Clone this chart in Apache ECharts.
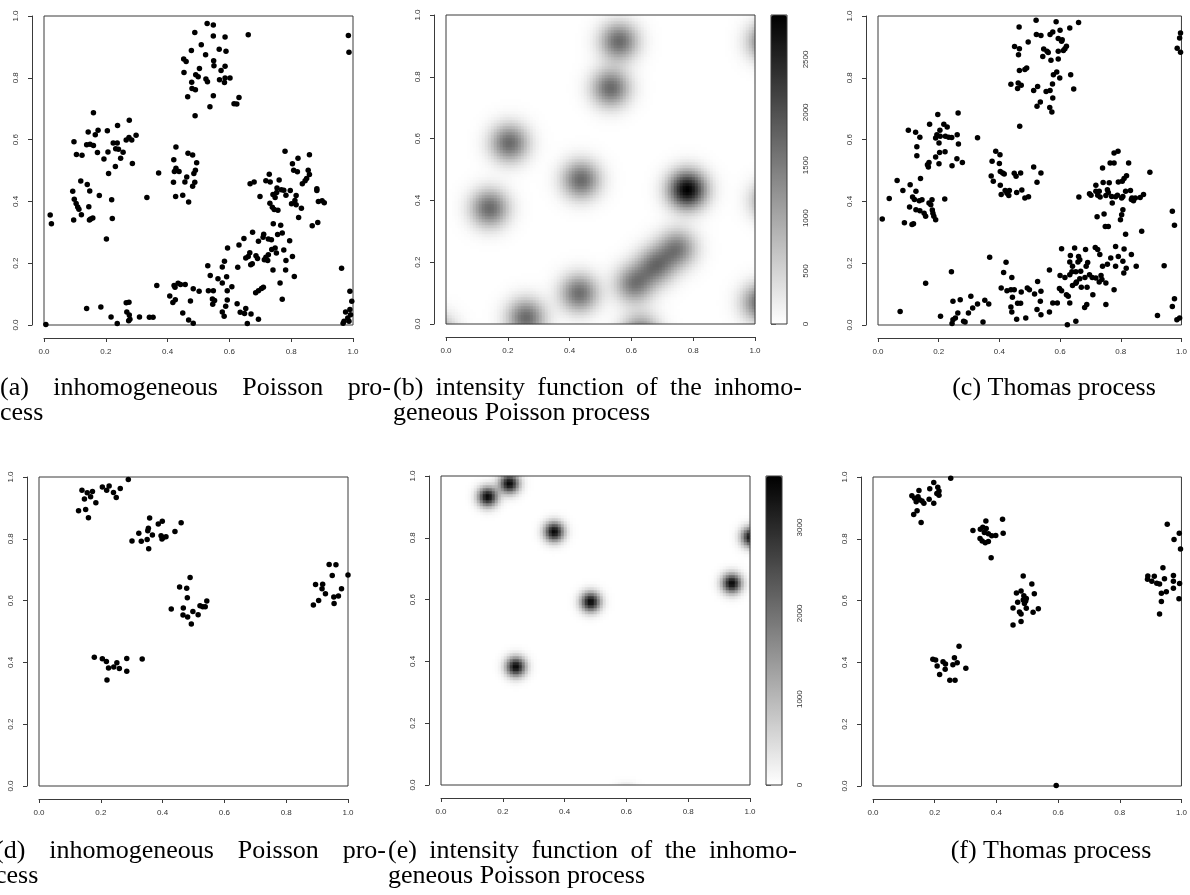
<!DOCTYPE html>
<html lang="en">
<head>
<meta charset="UTF-8" />
<title>Poisson and Thomas processes</title>
<script src="https://cdn.jsdelivr.net/npm/echarts@6/dist/echarts.min.js"></script>
<style>
    * { margin: 0; padding: 0; }
    #main { width: 1190px; height: 895px; background: #fff; }
</style>
</head>
<body>
<div id="main"></div>
<script>
    // ---- data ----
    const axisTicks = [0, 0.2, 0.4, 0.6, 0.8, 1];

    // (a) inhomogeneous Poisson process, 1st row
    const pointsA = [
        [0.488,0.947],[0.477,0.888],[0.452,0.861],[0.460,0.853],[0.453,0.817],[0.491,0.810],[0.499,0.803],[0.478,0.786],[0.503,0.830],[0.479,0.765],[0.490,0.761],[0.465,0.739],[0.489,0.677],
        [0.528,0.976],[0.548,0.971],[0.548,0.935],[0.586,0.932],[0.661,0.939],[0.509,0.907],[0.523,0.875],[0.567,0.892],[0.589,0.886],[0.549,0.855],[0.550,0.839],[0.573,0.824],[0.586,0.837],[0.524,0.796],[0.529,0.787],[0.568,0.794],[0.586,0.799],[0.602,0.799],[0.584,0.785],[0.548,0.742],[0.537,0.706],[0.631,0.736],[0.615,0.716],[0.624,0.715],
        [0.985,0.937],[0.987,0.883],
        [0.160,0.687],[0.276,0.663],[0.143,0.625],[0.175,0.630],[0.166,0.616],[0.205,0.629],[0.238,0.646],[0.097,0.593],[0.138,0.583],[0.149,0.585],[0.160,0.581],[0.105,0.552],[0.123,0.549],[0.173,0.558],[0.224,0.589],[0.237,0.589],[0.207,0.560],[0.232,0.570],[0.241,0.569],[0.256,0.559],[0.194,0.537],[0.248,0.540],[0.266,0.599],[0.275,0.607],[0.284,0.599],[0.298,0.614],[0.286,0.523],[0.231,0.513],[0.209,0.490],
        [0.427,0.576],[0.420,0.535],[0.466,0.556],[0.481,0.550],[0.494,0.525],[0.427,0.507],[0.437,0.497],[0.422,0.497],[0.371,0.492],[0.490,0.501],[0.485,0.490],[0.462,0.479],[0.456,0.463],[0.488,0.462],[0.481,0.449],[0.419,0.462],[0.426,0.416],[0.449,0.420],[0.468,0.398],[0.333,0.413],
        [0.119,0.466],[0.140,0.455],[0.093,0.433],[0.148,0.434],[0.179,0.419],[0.098,0.407],[0.104,0.393],[0.109,0.382],[0.113,0.375],[0.145,0.383],[0.219,0.405],[0.121,0.357],[0.096,0.340],[0.151,0.343],[0.158,0.346],[0.147,0.340],[0.221,0.345],[0.020,0.356],[0.024,0.328],[0.202,0.278],
        [0.780,0.562],[0.859,0.551],[0.822,0.540],[0.804,0.522],[0.808,0.501],[0.820,0.496],[0.855,0.501],[0.859,0.487],[0.729,0.488],[0.718,0.467],[0.732,0.463],[0.761,0.469],[0.667,0.457],[0.680,0.463],[0.754,0.443],[0.768,0.438],[0.776,0.436],[0.753,0.429],[0.748,0.413],[0.741,0.422],[0.699,0.416],[0.783,0.420],[0.797,0.435],[0.816,0.419],[0.812,0.403],[0.801,0.392],[0.816,0.389],[0.731,0.394],[0.739,0.381],[0.745,0.374],[0.757,0.371],[0.833,0.378],[0.824,0.348],[0.845,0.467],[0.850,0.474],[0.836,0.457],[0.883,0.441],[0.883,0.435],[0.888,0.400],[0.900,0.402],[0.907,0.396],[0.886,0.332],[0.868,0.321],
        [0.742,0.328],[0.766,0.323],[0.675,0.300],[0.711,0.294],[0.694,0.271],[0.647,0.280],[0.631,0.259],[0.594,0.249],[0.709,0.284],[0.726,0.278],[0.736,0.276],[0.756,0.293],[0.771,0.298],[0.795,0.273],[0.748,0.249],[0.737,0.244],[0.752,0.233],[0.776,0.243],[0.666,0.234],[0.661,0.222],[0.686,0.224],[0.691,0.215],[0.653,0.217],[0.674,0.198],[0.669,0.195],[0.718,0.219],[0.726,0.227],[0.713,0.211],[0.724,0.209],[0.741,0.178],[0.783,0.209],[0.782,0.178],[0.804,0.222],[0.584,0.206],[0.577,0.188],[0.627,0.187],[0.530,0.192],[0.538,0.160],[0.563,0.150],[0.577,0.136],[0.591,0.156],[0.608,0.124],[0.593,0.111],[0.810,0.157],[0.764,0.136],[0.685,0.104],[0.694,0.111],[0.704,0.118],[0.710,0.122],[0.771,0.083],
        [0.365,0.128],[0.421,0.128],[0.434,0.135],[0.442,0.131],[0.457,0.131],[0.424,0.122],[0.483,0.117],[0.502,0.109],[0.407,0.094],[0.425,0.082],[0.417,0.073],[0.474,0.078],[0.138,0.053],[0.184,0.058],[0.266,0.072],[0.275,0.074],[0.268,0.042],[0.217,0.026],[0.237,0.005],[0.276,0.032],[0.278,0.019],[0.274,0.014],[0.309,0.026],[0.341,0.025],[0.353,0.025],[0.449,0.039],[0.468,0.016],[0.483,0.006],[0.006,0.002],
        [0.532,0.111],[0.548,0.111],[0.545,0.084],[0.552,0.079],[0.546,0.067],[0.593,0.081],[0.588,0.061],[0.625,0.069],[0.653,0.053],[0.577,0.042],[0.583,0.028],[0.635,0.041],[0.649,0.037],[0.670,0.036],[0.694,0.019],[0.658,0.005],
        [0.963,0.184],[0.990,0.109],[0.996,0.077],[0.976,0.042],[0.990,0.050],[0.992,0.033],[0.983,0.023],[0.971,0.012],[0.987,0.012],[0.968,0.006]
    ];

    // (b) intensity bumps: [x, y, height]
    const bumpsB = [
        [0.561,0.915,1700],[0.534,0.764,1700],[0.206,0.586,1700],[0.438,0.467,1700],[0.142,0.375,1700],
        [0.782,0.435,2920],[0.610,0.130,1500],[0.680,0.190,1500],[0.750,0.245,1450],[0.432,0.100,1650],
        [0.260,0.020,1700],[1.040,0.915,1700],[1.050,0.400,1400],[1.020,0.070,1700],[0.630,-0.030,1500],
        [-0.030,-0.030,1300]
    ];
    const sigmaB = 0.042;
    const maxB = 2920;
    const barTicksB = [0, 500, 1000, 1500, 2000, 2500];

    // (c) Thomas process, 1st row
    const pointsC = [
        [0.465,0.964],[0.495,0.916],[0.450,0.901],[0.466,0.894],[0.463,0.875],[0.490,0.832],[0.484,0.827],[0.466,0.824],[0.438,0.779],[0.462,0.783],[0.472,0.776],[0.460,0.765],[0.467,0.643],
        [0.521,0.986],[0.587,0.981],[0.661,0.979],[0.632,0.961],[0.600,0.954],[0.576,0.948],[0.567,0.940],[0.522,0.940],[0.537,0.937],[0.594,0.927],[0.607,0.923],[0.605,0.918],[0.621,0.902],[0.616,0.894],[0.611,0.888],[0.546,0.893],[0.557,0.886],[0.561,0.882],[0.543,0.869],[0.570,0.857],[0.594,0.861],[0.594,0.886],[0.589,0.819],[0.578,0.810],[0.599,0.799],[0.635,0.810],[0.575,0.780],[0.567,0.759],[0.645,0.764],[0.513,0.759],[0.526,0.772],[0.554,0.756],[0.535,0.722],[0.524,0.708],[0.566,0.704],[0.573,0.689],[0.576,0.735],
        [0.997,0.945],[0.994,0.929],[0.986,0.896],[0.997,0.883],
        [0.197,0.681],[0.264,0.686],[0.170,0.650],[0.217,0.650],[0.228,0.641],[0.204,0.630],[0.100,0.630],[0.124,0.624],[0.138,0.608],[0.194,0.616],[0.205,0.611],[0.222,0.611],[0.233,0.608],[0.243,0.607],[0.261,0.616],[0.190,0.605],[0.201,0.589],[0.265,0.586],[0.328,0.606],[0.128,0.577],[0.128,0.548],[0.203,0.558],[0.221,0.561],[0.190,0.544],[0.168,0.526],[0.163,0.519],[0.166,0.511],[0.201,0.522],[0.244,0.515],[0.260,0.538],[0.278,0.526],
        [0.388,0.562],[0.402,0.551],[0.376,0.530],[0.400,0.523],[0.403,0.497],[0.411,0.492],[0.416,0.489],[0.449,0.491],[0.455,0.481],[0.470,0.492],[0.373,0.482],[0.380,0.465],[0.403,0.452],[0.419,0.435],[0.433,0.435],[0.425,0.426],[0.406,0.422],[0.431,0.419],[0.457,0.429],[0.474,0.437],[0.484,0.411],[0.496,0.415],
        [0.513,0.511],[0.537,0.492],[0.524,0.462],
        [0.140,0.474],[0.063,0.468],[0.106,0.454],[0.082,0.435],[0.125,0.433],[0.114,0.414],[0.120,0.406],[0.136,0.402],[0.145,0.405],[0.168,0.395],[0.178,0.405],[0.174,0.389],[0.037,0.409],[0.220,0.408],[0.104,0.382],[0.125,0.373],[0.138,0.370],[0.152,0.362],[0.157,0.352],[0.179,0.372],[0.181,0.362],[0.184,0.352],[0.190,0.341],[0.014,0.343],[0.087,0.331],[0.112,0.325],[0.117,0.328],
        [0.778,0.557],[0.791,0.562],[0.765,0.524],[0.778,0.524],[0.740,0.508],[0.826,0.524],[0.896,0.494],[0.819,0.483],[0.811,0.474],[0.805,0.465],[0.718,0.452],[0.742,0.461],[0.762,0.460],[0.792,0.463],[0.697,0.425],[0.702,0.420],[0.724,0.420],[0.732,0.414],[0.718,0.433],[0.729,0.433],[0.756,0.438],[0.759,0.429],[0.751,0.419],[0.770,0.416],[0.783,0.415],[0.789,0.420],[0.803,0.411],[0.807,0.416],[0.816,0.433],[0.832,0.435],[0.837,0.411],[0.842,0.402],[0.848,0.411],[0.835,0.406],[0.864,0.413],[0.875,0.422],[0.662,0.414],[0.772,0.395],[0.745,0.359],[0.807,0.373],[0.803,0.357],[0.799,0.341],[0.722,0.350],[0.749,0.319],[0.759,0.319],[0.816,0.294],[0.869,0.303],[0.970,0.368],[0.977,0.323],
        [0.605,0.247],[0.648,0.249],[0.684,0.244],[0.716,0.251],[0.724,0.244],[0.731,0.228],[0.783,0.254],[0.811,0.246],[0.835,0.228],[0.792,0.222],[0.767,0.217],[0.807,0.206],[0.818,0.184],[0.810,0.168],[0.783,0.190],[0.756,0.197],[0.740,0.190],[0.634,0.225],[0.661,0.222],[0.665,0.211],[0.659,0.204],[0.691,0.202],[0.632,0.204],[0.641,0.190],[0.639,0.172],[0.652,0.172],[0.668,0.174],[0.686,0.190],[0.697,0.163],[0.706,0.154],[0.718,0.152],[0.735,0.160],[0.738,0.147],[0.729,0.139],[0.632,0.163],[0.682,0.154],[0.665,0.150],[0.652,0.135],[0.670,0.122],[0.654,0.139],[0.641,0.128],[0.616,0.154],[0.600,0.160],[0.565,0.178],[0.598,0.118],[0.605,0.111],[0.621,0.098],[0.627,0.093],[0.689,0.122],[0.708,0.098],[0.751,0.136],[0.778,0.114],[0.851,0.190],[0.943,0.192],
        [0.537,0.109],[0.526,0.141],[0.516,0.100],[0.535,0.077],[0.524,0.050],[0.537,0.033],[0.565,0.042],[0.576,0.071],[0.591,0.071],[0.632,0.071],[0.688,0.066],[0.681,0.057],[0.751,0.066],[0.624,0.001],[0.652,0.012],[0.921,0.031],[0.970,0.060],[0.977,0.085],[0.985,0.017],[0.994,0.023],
        [0.368,0.219],[0.422,0.203],[0.414,0.170],[0.441,0.154],[0.242,0.172],[0.157,0.135],[0.406,0.120],[0.425,0.111],[0.438,0.114],[0.449,0.114],[0.472,0.107],[0.492,0.120],[0.499,0.114],[0.443,0.090],[0.460,0.070],[0.470,0.070],[0.438,0.058],[0.441,0.042],[0.306,0.093],[0.352,0.080],[0.365,0.068],[0.328,0.068],[0.312,0.055],[0.298,0.039],[0.247,0.077],[0.271,0.082],[0.263,0.039],[0.247,0.017],[0.255,0.023],[0.282,0.012],[0.287,0.010],[0.244,0.005],[0.206,0.028],[0.073,0.044],[0.346,0.010],[0.457,0.019],[0.487,0.023]
    ];

    // (d) inhomogeneous Poisson process, 2nd row
    const pointsD = [
        [0.289,0.992],[0.205,0.968],[0.227,0.971],[0.219,0.957],[0.241,0.950],[0.263,0.963],[0.250,0.934],[0.139,0.957],[0.156,0.949],[0.173,0.953],[0.167,0.936],[0.147,0.929],[0.184,0.917],[0.128,0.891],[0.151,0.895],[0.160,0.868],
        [0.358,0.867],[0.386,0.848],[0.399,0.857],[0.460,0.852],[0.323,0.818],[0.352,0.826],[0.354,0.834],[0.367,0.812],[0.395,0.810],[0.411,0.807],[0.440,0.824],[0.398,0.799],[0.301,0.793],[0.331,0.792],[0.350,0.798],[0.355,0.768],[0.402,0.804],
        [0.939,0.717],[0.961,0.716],[1.000,0.683],[0.949,0.681],[0.895,0.652],[0.918,0.653],[0.916,0.638],[0.979,0.638],[0.927,0.622],[0.954,0.612],[0.969,0.615],[0.905,0.600],[0.888,0.586],[0.955,0.591],
        [0.489,0.675],[0.455,0.644],[0.478,0.640],[0.480,0.609],[0.543,0.599],[0.521,0.583],[0.530,0.580],[0.538,0.580],[0.428,0.573],[0.467,0.576],[0.498,0.565],[0.515,0.554],[0.466,0.553],[0.481,0.547],[0.493,0.524],
        [0.179,0.417],[0.205,0.412],[0.218,0.403],[0.252,0.399],[0.284,0.413],[0.334,0.411],[0.225,0.382],[0.242,0.385],[0.260,0.380],[0.284,0.371],[0.220,0.343]
    ];

    // (e) intensity bumps: [x, y, height]
    const bumpsE = [
        [0.152,0.933,3500],[0.222,0.976,3500],[0.367,0.820,3500],[0.485,0.593,3500],
        [0.942,0.653,3500],[1.005,0.803,3500],[0.243,0.383,3500],[0.600,-0.045,3000]
    ];
    const sigmaE = 0.022;
    const maxE = 3600;
    const barTicksE = [0, 1000, 2000, 3000];

    // (f) Thomas process, 2nd row
    const pointsF = [
        [0.252,0.996],
        [0.197,0.982],[0.184,0.962],[0.210,0.967],[0.214,0.955],[0.207,0.947],[0.214,0.941],[0.149,0.956],[0.126,0.939],[0.135,0.931],[0.146,0.936],[0.151,0.926],[0.140,0.920],[0.159,0.922],[0.165,0.915],[0.182,0.928],[0.197,0.915],[0.143,0.891],[0.132,0.879],[0.156,0.853],
        [0.366,0.858],[0.420,0.863],[0.324,0.827],[0.348,0.831],[0.356,0.837],[0.367,0.833],[0.361,0.820],[0.374,0.816],[0.385,0.810],[0.398,0.811],[0.422,0.818],[0.347,0.801],[0.354,0.793],[0.364,0.787],[0.374,0.791],[0.383,0.739],
        [0.954,0.847],[0.993,0.818],[0.976,0.798],[0.997,0.767],[0.940,0.706],[0.891,0.680],[0.912,0.679],[0.974,0.681],[0.890,0.669],[0.904,0.663],[0.920,0.656],[0.929,0.654],[0.945,0.671],[0.974,0.663],[0.994,0.655],[0.974,0.640],[0.951,0.629],[0.935,0.624],[0.992,0.606],[0.935,0.597],[0.929,0.557],
        [0.487,0.680],[0.515,0.654],[0.480,0.631],[0.465,0.625],[0.523,0.622],[0.489,0.616],[0.497,0.607],[0.487,0.602],[0.495,0.599],[0.469,0.595],[0.491,0.591],[0.497,0.575],[0.454,0.576],[0.536,0.574],[0.475,0.563],[0.480,0.557],[0.519,0.562],[0.480,0.532],[0.454,0.521],
        [0.279,0.452],[0.194,0.410],[0.203,0.408],[0.227,0.402],[0.235,0.395],[0.264,0.415],[0.273,0.399],[0.208,0.388],[0.234,0.378],[0.259,0.392],[0.301,0.381],[0.216,0.361],[0.249,0.342],[0.266,0.342],
        [0.594,0.002]
    ];

    // ---- layout ----
    const SIZE = 309;
    const boxes = [
        { left: 44, top: 16 },   // a
        { left: 446, top: 15 },  // b
        { left: 878, top: 16 },  // c
        { left: 39, top: 477 },  // d
        { left: 441, top: 476 }, // e
        { left: 873, top: 477 }  // f
    ];
    const lineColor = '#3a3a3a';
    const tickFont = { fontSize: 8, color: '#333', fontFamily: 'Liberation Sans' };
    const N = 103; // heatmap cells per side
    const cats = Array.from({ length: N }, (_, i) => String(i));

    const grids = [], xAxes = [], yAxes = [], series = [], visualMaps = [];

    function addPanel(box, heat) {
        const gi = grids.length;
        grids.push({
            left: box.left, top: box.top, width: SIZE, height: SIZE,
            show: true, borderColor: lineColor, borderWidth: 1,
            backgroundColor: 'transparent', z: heat ? 5 : 0
        });
        const xi = xAxes.length, yi = yAxes.length;
        xAxes.push({
            gridIndex: gi, type: 'value', min: 0, max: 1, interval: 0.2, offset: 13,
            axisLine: { show: true, onZero: false, lineStyle: { color: lineColor } },
            axisTick: { show: true, length: 4, customValues: axisTicks, lineStyle: { color: lineColor } },
            axisLabel: Object.assign({ margin: 10, customValues: axisTicks, formatter: v => v.toFixed(1) }, tickFont),
            splitLine: { show: false }
        });
        yAxes.push({
            gridIndex: gi, type: 'value', min: 0, max: 1, interval: 0.2, offset: 12,
            axisLine: { show: true, onZero: false, lineStyle: { color: lineColor } },
            axisTick: { show: true, length: 4, customValues: axisTicks, lineStyle: { color: lineColor } },
            axisLabel: Object.assign({ margin: 12, rotate: 90, customValues: axisTicks, formatter: v => v.toFixed(1) }, tickFont),
            splitLine: { show: false }
        });
        if (!heat) return { gi, xi, yi };
        xAxes.push({ gridIndex: gi, type: 'category', data: cats, show: false });
        yAxes.push({ gridIndex: gi, type: 'category', data: cats, show: false });
        return { gi, xi: xi + 1, yi: yi + 1 };
    }

    function addScatter(box, pts) {
        const p = addPanel(box, false);
        series.push({
            type: 'scatter', xAxisIndex: p.xi, yAxisIndex: p.yi, data: pts,
            symbol: 'circle', symbolSize: 5.5, itemStyle: { color: '#000', opacity: 1 },
            clip: false, silent: true
        });
    }

    // intensity surface from the bumps
    function intensity(bumps, sigma) {
        const cells = [];
        for (let i = 0; i < N; i++) {
            for (let j = 0; j < N; j++) {
                const x = (i + 0.5) / N, y = (j + 0.5) / N;
                let v = 0;
                bumps.forEach(b => {
                    const dx = x - b[0], dy = y - b[1];
                    v += b[2] * Math.exp(-(dx * dx + dy * dy) / (2 * sigma * sigma));
                });
                cells.push([i, j, v]);
            }
        }
        return cells;
    }

    function addHeat(box, bumps, sigma, max, ticks, bar, labelMargin) {
        const p = addPanel(box, true);
        const si = series.length;
        series.push({
            type: 'heatmap', xAxisIndex: p.xi, yAxisIndex: p.yi,
            data: intensity(bumps, sigma), progressive: 0, silent: true,
            emphasis: { disabled: true }
        });
        visualMaps.push({
            type: 'continuous', seriesIndex: si, min: 0, max: max,
            left: bar.left, top: bar.top, itemWidth: 16, itemHeight: SIZE,
            padding: 0, calculable: false, hoverLink: false,
            inRange: { color: ['#ffffff', '#000000'] }
        });
        // colour bar frame and its axis
        const gi = grids.length;
        grids.push({
            left: bar.left, top: bar.top, width: 16, height: SIZE,
            show: true, borderColor: lineColor, borderWidth: 1, z: 5
        });
        xAxes.push({ gridIndex: gi, type: 'value', show: false });
        yAxes.push({
            gridIndex: gi, type: 'value', min: 0, max: max, interval: ticks[1], position: 'right',
            axisLine: { show: false },
            axisTick: { show: true, length: 5, customValues: ticks, lineStyle: { color: '#777' } },
            axisLabel: Object.assign({ margin: labelMargin, rotate: 90, customValues: ticks, formatter: v => String(v) }, tickFont),
            splitLine: { show: false }
        });
    }

    addScatter(boxes[0], pointsA);
    addHeat(boxes[1], bumpsB, sigmaB, maxB, barTicksB, { left: 771, top: 15 }, 15);
    addScatter(boxes[2], pointsC);
    addScatter(boxes[3], pointsD);
    addHeat(boxes[4], bumpsE, sigmaE, maxE, barTicksE, { left: 766, top: 476 }, 14);
    addScatter(boxes[5], pointsF);

    // ---- captions ----
    const capSize = 26;
    const capFamily = '"Liberation Serif", "Times New Roman", serif';
    const measure = document.createElement('canvas').getContext('2d');
    measure.font = capSize + 'px ' + capFamily;
    const graphics = [];

    function textEl(str, x, y, align) {
        graphics.push({
            type: 'text', x: x, y: y, silent: true,
            style: {
                text: str, fill: '#000', fontSize: capSize, fontFamily: capFamily,
                textAlign: align || 'left', textVerticalAlign: 'middle'
            }
        });
    }
    // justified line: words spread between left and right
    function justified(str, left, right, y) {
        const words = str.split(' ');
        const widths = words.map(w => measure.measureText(w).width);
        const total = widths.reduce((a, b) => a + b, 0);
        const gap = (right - left - total) / (words.length - 1);
        let x = left;
        words.forEach((w, k) => { textEl(w, x, y); x += widths[k] + gap; });
    }

    justified('(a) inhomogeneous Poisson pro-', 0, 391, 388);
    textEl('cess', 0, 413);
    justified('(b) intensity function of the inhomo-', 393, 802, 388);
    textEl('geneous Poisson process', 393, 413);
    textEl('(c) Thomas process', 1054, 388, 'center');

    justified('(d) inhomogeneous Poisson pro-', -5, 386, 851);
    textEl('cess', -5, 876);
    justified('(e) intensity function of the inhomo-', 388, 797, 851);
    textEl('geneous Poisson process', 388, 876);
    textEl('(f) Thomas process', 1051, 851, 'center');

    const myChart = echarts.init(document.getElementById('main'));
    myChart.setOption({
        animation: false,
        backgroundColor: '#fff',
        grid: grids,
        xAxis: xAxes,
        yAxis: yAxes,
        visualMap: visualMaps,
        series: series,
        graphic: graphics
    });
</script>
</body>
</html>
